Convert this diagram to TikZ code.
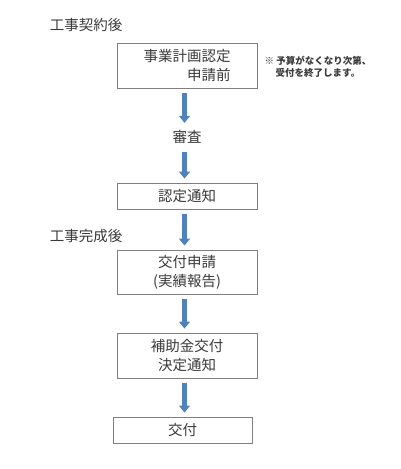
\documentclass[tikz,border=0pt]{standalone}
\usepackage{fontspec}
\newfontfamily\jpfont{Noto Sans CJK JP}
\usetikzlibrary{arrows.meta}

\definecolor{flowblue}{HTML}{4F81BD}
\definecolor{flowedge}{HTML}{385D8A}
\definecolor{boxline}{HTML}{7F7F7F}
\definecolor{textgray}{HTML}{3A3A3A}

\begin{document}
\begin{tikzpicture}[x=1pt, y=-1pt,
    every node/.style={font=\jpfont\fontsize{14.5}{19}\selectfont, text=textgray},
    stagebox/.style={draw=boxline, line width=0.9pt, minimum width=140pt, align=right, inner sep=0pt},
    flowarrow/.style={flowblue, line width=5pt, -{Triangle[width=11pt, length=7pt]}}]
    \useasboundingbox (0, 0) rectangle (400, 469);

    % Phases
    \node (contract) at (86, 25) {工事契約後};
    \node (complete) at (86, 236) {工事完成後};

    % Boxes
    \node [stagebox, minimum height=45pt] (plan) at (187, 65.5) {事業計画認定\\申請前};
    \node (review) at (187, 137) {審査};
    \node [stagebox, minimum height=26pt] (approve) at (187, 196) {認定通知};
    \node [stagebox, minimum height=44pt, align=center] (apply) at (187, 272) {交付申請\\(実績報告)};
    \node [stagebox, minimum height=45pt, align=center] (decide) at (187, 355.5) {補助金交付\\決定通知};
    \node [stagebox, minimum width=139pt, minimum height=26pt] (grant) at (182.5, 430) {交付};

    % Note
    \node [font=\jpfont\bfseries\fontsize{9.5}{12.5}\selectfont, align=center] (note) at (318, 67)
      {※ 予算がなくなり次第、\\受付を終了します。};

    % Arrows
    \foreach \a/\b in {plan/review, review/approve, approve/apply, apply/decide, decide/grant} {
      \draw [flowarrow] ([xshift=-2.5pt, yshift=-5pt]\a.south) -- ([xshift=-2.5pt, yshift=4pt]\a.south |- \b.north);
    }

\end{tikzpicture}
\end{document}
